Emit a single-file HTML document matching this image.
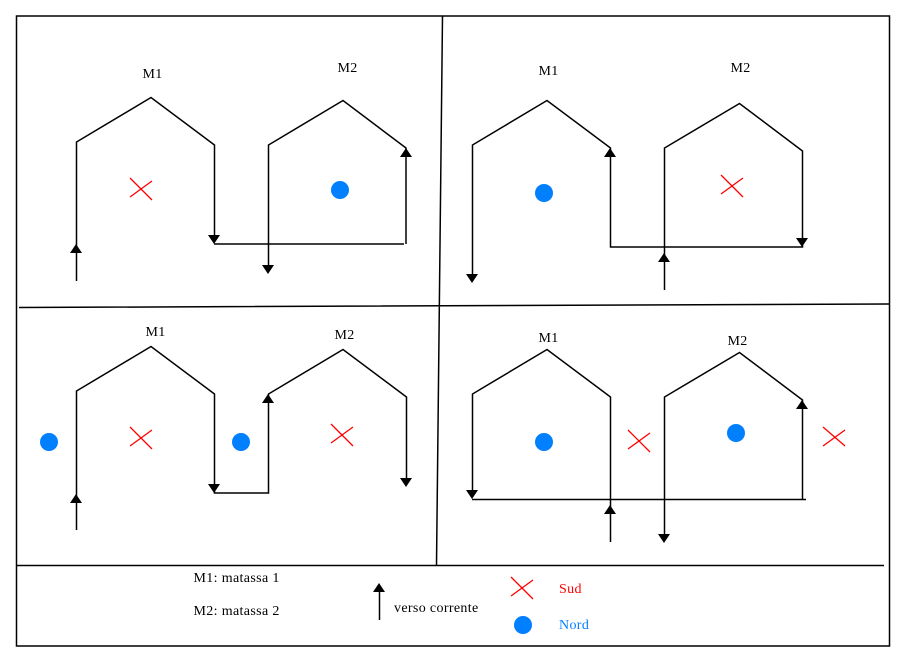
<!DOCTYPE html>
<html>
<head>
<meta charset="utf-8">
<style>
html,body{margin:0;padding:0;background:#fff;}
svg{display:block;}
text{font-family:"Liberation Serif",serif;font-size:14px;letter-spacing:.35px;fill:#000;}
.l{fill:none;stroke:#000;stroke-width:1.5;stroke-linejoin:miter;}
.x{fill:none;stroke:#f00;stroke-width:1.3;}
.c{fill:#0080ff;}
</style>
</head>
<body>
<svg width="906" height="663" viewBox="0 0 906 663" xmlns="http://www.w3.org/2000/svg">
<rect width="906" height="663" fill="#fff"/>
<!-- frame and dividers -->
<rect class="l" x="16.5" y="16" width="873" height="630"/>
<path class="l" d="M442.5 16L436.5 565M19 307.5L889 304M16 565.5H884"/>

<!-- panel 1 -->
<path class="l" d="M76.5 281V142L151 97.5L214.5 145V240M214 244H404M406 244V148L343 100.5L268.5 145V268"/>
<path d="M76 244l6 9h-12zM214 244l6-9h-12zM406 148l6 9h-12zM268 274l6-9h-12z"/>
<path class="x" d="M130 178L152 200M130 197L152 181"/>
<circle class="c" cx="340" cy="190" r="9"/>
<text x="142.5" y="78">M1</text>
<text x="337.5" y="72">M2</text>

<!-- panel 2 -->
<path class="l" d="M472.5 279V145L547 100.5L610.5 148V247H802.5V151L739.5 103.5L664.5 148V290"/>
<path d="M472 283l6-9h-12zM610 148l6 9h-12zM664 253l6 9h-12zM802 247l6-9h-12z"/>
<path class="x" d="M721 175L743 197M721 194L743 178"/>
<circle class="c" cx="544" cy="193" r="9"/>
<text x="538.5" y="75">M1</text>
<text x="730.5" y="72">M2</text>

<!-- panel 3 -->
<path class="l" d="M76.5 530V391L151 346.5L214.5 394V493H268.5V394L343 349.5L406.5 397V483"/>
<path d="M76 494l6 9h-12zM214 493l6-9h-12zM268 394l6 9h-12zM406 487l6-9h-12z"/>
<path class="x" d="M130 427L152 449M130 446L152 430M331 424L353 446M331 443L353 427"/>
<circle class="c" cx="49" cy="442" r="9"/>
<circle class="c" cx="241" cy="442" r="9"/>
<text x="145.5" y="336">M1</text>
<text x="334.5" y="339">M2</text>

<!-- panel 4 -->
<path class="l" d="M472.5 495V394L547 349.5L610.5 397V542M472 499.5H806M664.5 540V397L739.5 352.5L802.5 400V499"/>
<path d="M472 499l6-9h-12zM610 505l6 9h-12zM664 543l6-9h-12zM802 400l6 9h-12z"/>
<path class="x" d="M628 430L650 452M628 449L650 433M823 427L845 446M823 446L845 430"/>
<circle class="c" cx="544" cy="442" r="9"/>
<circle class="c" cx="736" cy="433" r="9"/>
<text x="538.5" y="342">M1</text>
<text x="727.5" y="345">M2</text>

<!-- legend -->
<text x="193.5" y="582">M1: matassa 1</text>
<text x="193.5" y="615">M2: matassa 2</text>
<path class="l" d="M379.5 588V620"/>
<path d="M379 583l6 9h-12z"/>
<text x="394" y="612">verso corrente</text>
<path class="x" d="M511 577L533 599M511 596L533 580"/>
<circle class="c" cx="523" cy="625" r="9"/>
<text x="559" y="593" style="fill:#f00">Sud</text>
<text x="559" y="629" style="fill:#0080ff">Nord</text>
</svg>
</body>
</html>
